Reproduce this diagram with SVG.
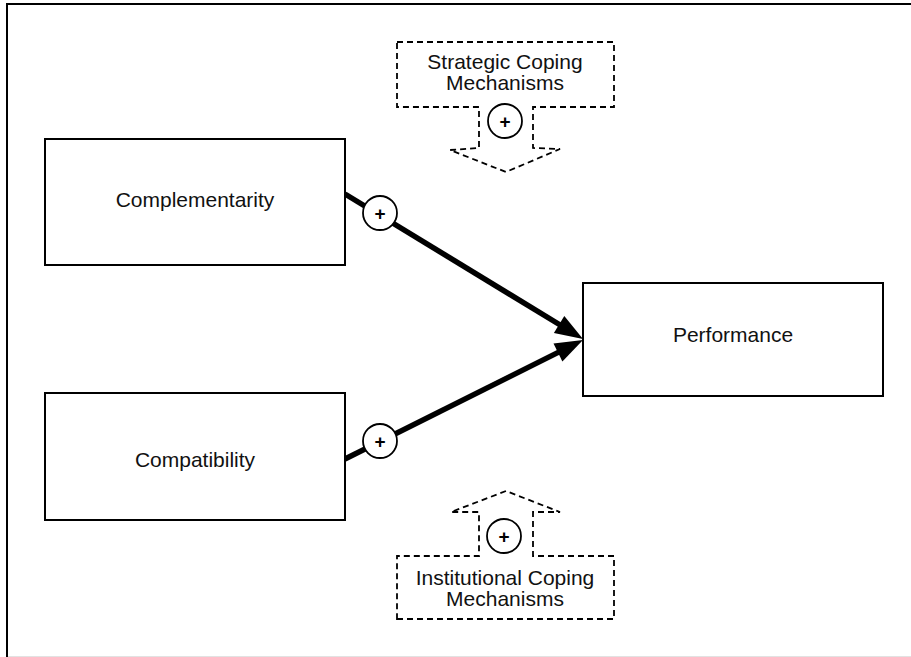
<svg xmlns="http://www.w3.org/2000/svg" width="911" height="657" viewBox="0 0 911 657">
<style>
  .box{fill:#fff;stroke:#000;stroke-width:2}
  .lbl{font-family:"Liberation Sans",Arial,sans-serif;font-size:21px;fill:#111;text-anchor:middle}
  .dash{fill:#fff;stroke:#000;stroke-width:1.8;stroke-dasharray:6 4}
  .conn{stroke:#000;stroke-width:5.5;fill:none}
  .head{fill:#000;stroke:none}
  .sign{fill:#fff;stroke:#000;stroke-width:1.8}
  .plus{font-family:"Liberation Sans",Arial,sans-serif;font-size:19px;font-weight:bold;fill:#000;text-anchor:middle}
</style>
<rect width="911" height="657" fill="#fff"/>
<g id="frame">
  <line x1="7" y1="4" x2="911" y2="4" stroke="#000" stroke-width="2"/>
  <line x1="7" y1="3" x2="7" y2="657" stroke="#000" stroke-width="2"/>
  <line x1="8" y1="656.5" x2="911" y2="656.5" stroke="#e2e2e2" stroke-width="1"/>
</g>
<g id="connectors">
  <line class="conn" x1="345" y1="194" x2="561" y2="325.5"/>
  <polygon class="head" points="583,339 553.9,332.9 564.3,315.9"/>
  <line class="conn" x1="345" y1="459" x2="559.7" y2="351.6"/>
  <polygon class="head" points="583,340 562.4,361.5 553.5,343.6"/>
</g>
<g id="complementarity">
  <rect class="box" x="45" y="139" width="300" height="126"/>
  <text class="lbl" x="195" y="207">Complementarity</text>
</g>
<g id="compatibility">
  <rect class="box" x="45" y="393" width="300" height="127"/>
  <text class="lbl" x="195" y="467">Compatibility</text>
</g>
<g id="performance">
  <rect class="box" x="583" y="283" width="300" height="113"/>
  <text class="lbl" x="733" y="342">Performance</text>
</g>
<g id="sign-complementarity">
  <circle class="sign" cx="380" cy="213" r="17"/>
  <text class="plus" x="380" y="219.5">+</text>
</g>
<g id="sign-compatibility">
  <circle class="sign" cx="380" cy="441" r="17"/>
  <text class="plus" x="380" y="447.5">+</text>
</g>
<g id="strategic">
  <path class="dash" d="M397,42 H614 V107 H533 V148 L560,149 L506,172 L450,150 L479,148 V107 H397 Z"/>
  <text class="lbl" x="505" y="69">Strategic Coping</text>
  <text class="lbl" x="505" y="90">Mechanisms</text>
  <circle class="sign" cx="505" cy="121" r="17"/>
  <text class="plus" x="505" y="127.5">+</text>
</g>
<g id="institutional">
  <path class="dash" d="M397,619 H614 V556 H533 V512 L560,512 L506,491 L451,512 L479,512 V556 H397 Z"/>
  <text class="lbl" x="505" y="585">Institutional Coping</text>
  <text class="lbl" x="505" y="606">Mechanisms</text>
  <circle class="sign" cx="504" cy="536" r="17"/>
  <text class="plus" x="504" y="542.5">+</text>
</g>
</svg>
